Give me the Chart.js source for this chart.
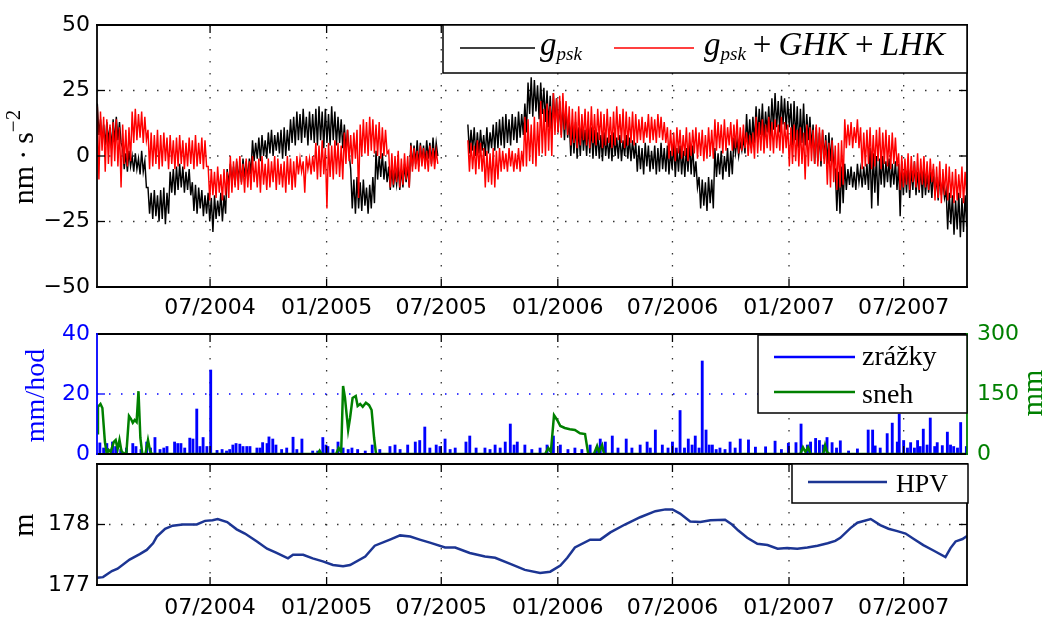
<!DOCTYPE html>
<html><head><meta charset="utf-8">
<script src="https://cdn.jsdelivr.net/npm/chart.js@4.4.1/dist/chart.umd.min.js"></script>
<style>
html,body{margin:0;padding:0;background:#fff;width:1047px;height:621px;overflow:hidden;}
canvas{position:absolute;left:0;}
</style></head><body>
<canvas id="c1" width="1047" height="320" style="top:0px"></canvas>
<canvas id="c2" width="1047" height="140" style="top:320px"></canvas>
<canvas id="c3" width="1047" height="161" style="top:460px"></canvas>
<script>
// ---------------- DATA (x values are days since 2004-01-01) ----------------
const xTickDays   = [182, 366, 547, 731, 912, 1096, 1277];
const xTickLabels = ['07/2004','01/2005','07/2005','01/2006','07/2006','01/2007','07/2007'];
const X_MIN = 3.5, X_MAX = 1377;

const gTicks = [-50, -25, 0, 25, 50];
const precipTicks = [0, 20, 40];
const snowTicks = [0, 150, 300];
const hpvTicks = [177, 178];

// gravity residuals: upper (day 4+5i) and lower (day 6.5+5i) readings of the noisy band
const gDayStart = 4, gDayStep = 5;
const gPskHigh = [20,14,12,13,11,14,15,13,3,1,
 2,0,1,-1,2,-2,-12,-14,-13,-15,
 -13,-12,-14,-6,-5,-4,-3,-4,-6,-5,
 -10,-11,-12,-13,-15,-14,-16,-15,-17,-14,
 -15,-5,-3,-4,-2,-3,-1,-2,-1,6,
 5,7,8,6,9,10,8,9,10,11,
 10,14,15,17,16,18,15,17,16,18,
 19,17,18,16,19,17,15,14,12,10,
 -5,-9,-8,-10,-9,-12,-11,-8,2,0,
 1,-2,-4,-5,-6,-4,-5,-3,-4,5,
 4,6,5,4,6,5,7,5,null,null,
 null,null,null,null,null,null,null,12,10,11,
 9,10,8,11,9,12,13,14,15,16,
 14,16,15,17,16,20,28,30,29,27,
 28,26,25,23,24,22,21,20,18,13,
 12,13,11,12,10,12,11,10,9,8,
 9,7,8,9,7,8,6,8,7,6,
 5,4,3,5,4,2,4,3,5,3,
 4,2,5,3,4,2,3,5,4,-2,
 -8,-9,-10,-8,-9,3,1,2,0,3,
 2,7,6,5,7,16,14,15,19,18,
 20,17,19,22,24,21,23,22,21,20,
 21,19,18,20,16,15,12,11,9,10,
 8,9,7,-5,-6,-4,-3,-5,-4,-6,
 -3,-5,-4,-3,3,1,0,-1,0,-2,
 -1,-3,-2,-3,-2,-4,-3,-5,-2,-6,
 -4,-5,-7,-6,-5,-8,-7,-9,-13,-14,
 -15,-17,-14,-16,-15];
const gPskLow = [8,5,4,6,3,5,6,5,-5,-6,
 -4,-6,-5,-7,-6,-12,-22,-24,-23,-25,
 -24,-26,-22,-14,-15,-13,-12,-14,-13,-15,
 -21,-22,-20,-23,-22,-25,-29,-24,-23,-25,
 -22,-11,-10,-11,-9,-10,-8,-9,-7,-2,
 -1,-2,0,-1,1,0,2,1,-1,0,
 2,5,4,6,5,7,4,6,5,4,
 6,3,5,4,6,4,5,3,2,1,
 -20,-22,-20,-21,-19,-22,-20,-18,-9,-8,
 -9,-10,-13,-12,-11,-13,-12,-10,-12,-4,
 -3,-4,-2,-3,-1,-3,-2,0,null,null,
 null,null,null,null,null,null,null,1,2,0,
 1,2,0,1,3,2,3,4,3,5,
 4,6,5,7,8,9,16,15,17,14,
 16,13,11,10,12,9,8,6,7,0,
 1,-1,0,2,0,1,-1,0,-1,-2,
 0,-1,-2,0,-1,-2,0,-1,-2,-1,
 -6,-5,-7,-4,-6,-5,-7,-6,-5,-6,
 -7,-5,-8,-6,-7,-8,-6,-7,-8,-12,
 -20,-19,-21,-18,-20,-8,-7,-9,-6,-8,
 -7,1,0,2,1,4,3,5,7,8,
 6,9,7,10,11,9,12,10,11,4,
 6,3,5,4,6,3,-3,-2,-4,-1,
 -3,-2,-4,-21,-22,-18,-13,-11,-12,-13,
 -10,-12,-11,-13,-20,-14,-19,-11,-12,-10,
 -12,-11,-13,-23,-15,-14,-16,-13,-15,-14,
 -16,-15,-14,-16,-15,-17,-15,-16,-28,-26,
 -30,-28,-31,-29,-27];
const gCorrHigh = [19,17,15,14,12,13,14,11,12,10,
 11,17,18,16,17,15,10,9,8,10,
 8,9,7,8,6,7,8,6,5,7,
 6,8,5,7,6,-4,-5,-6,-4,-7,
 -5,-6,0,-2,-1,0,-3,-1,-2,0,
 -2,-1,0,-3,-1,-2,0,-1,-3,-2,
 0,-1,-2,0,-1,-2,0,-1,0,5,
 4,6,3,5,4,6,5,4,9,10,
 8,9,10,12,14,13,15,14,12,13,
 11,10,2,1,0,2,-1,1,0,4,
 3,2,4,3,2,4,3,2,null,null,
 null,null,null,null,null,null,null,6,5,4,
 6,5,3,2,1,3,2,3,2,1,
 3,2,1,3,2,15,14,12,15,13,
 21,18,20,19,24,22,23,24,21,19,
 18,17,19,16,18,17,19,16,18,17,
 16,18,15,17,19,16,18,17,15,17,
 16,14,15,13,16,15,14,16,15,13,
 11,10,9,11,10,8,11,9,10,11,
 9,10,8,11,10,14,13,12,14,11,
 13,12,14,11,12,9,8,9,15,13,
 14,12,15,13,14,12,15,13,12,11,
 12,10,11,9,12,11,10,12,11,10,
 6,5,6,4,5,6,14,12,13,11,
 14,11,9,10,11,8,10,11,9,10,
 8,9,7,1,0,-1,1,0,-2,1,
 -1,0,-2,-1,-3,-4,-2,-5,-3,-4,
 -6,-5,-7,-4,-6];
const gCorrLow = [-9,2,-6,-3,-4,-2,-4,-12,-3,-4,
 -2,5,6,7,5,6,-5,-4,-3,-5,
 -4,-2,-5,-3,-5,-4,-3,-5,-4,-3,
 -5,-4,-3,-5,-4,-17,-15,-16,-14,-17,
 -15,-16,-14,-12,-13,-11,-14,-12,-13,-10,
 -12,-14,-11,-13,-12,-10,-13,-11,-12,-14,
 -11,-13,-12,-7,-6,-14,-5,-7,-6,-9,
 -8,-7,-20,-8,-9,-7,-8,-9,-3,-2,
 -3,-1,-16,0,1,0,2,1,0,-1,
 0,1,-12,-11,-10,-12,-11,-9,-12,-6,
 -5,-6,-4,-5,-6,-4,-5,-3,null,null,
 null,null,null,null,null,null,null,-6,-5,-7,
 -5,-6,-12,-10,-11,-12,-9,-6,-5,-6,
 -4,-6,-5,-6,-4,-4,-2,-3,-4,0,
 1,0,2,0,8,9,7,10,8,4,
 5,3,4,6,4,3,5,4,6,3,
 4,5,3,4,6,5,3,4,5,4,
 5,6,5,7,5,6,5,7,6,5,
 -1,0,-2,1,-1,0,-2,0,1,-1,
 0,-2,-1,0,-1,2,3,1,2,4,
 2,3,1,2,3,0,1,-1,1,2,
 1,3,2,1,3,2,1,3,-4,-3,
 -2,-4,-3,-9,-4,-2,-3,-4,-2,-3,
 -11,-12,-10,-13,-12,-11,3,4,3,5,
 3,-5,-4,-3,-5,-4,-2,-5,-3,-4,
 -5,-3,-4,-13,-12,-11,-13,-10,-12,-13,
 -11,-12,-13,-10,-17,-16,-18,-15,-17,-16,
 -18,-17,-16,-18,-15];

const precipDays = [8,14,19,28,33,41,50,60,65,73,
 82,88,95,103,109,114,126,131,136,142,
 150,155,161,166,171,177,183,193,201,208,
 213,218,223,229,234,240,245,256,261,265,
 272,275,281,286,295,303,313,319,327,344,
 352,360,365,368,376,384,392,400,406,415,
 427,438,450,466,474,482,494,506,513,521,
 529,539,545,553,561,569,586,592,602,616,
 624,632,640,648,656,662,667,679,690,703,
 714,724,735,747,758,769,782,792,798,806,
 817,826,839,848,861,872,877,885,896,905,
 912,918,924,931,937,943,948,954,959,965,
 970,975,981,987,995,1003,1011,1019,1032,1043,
 1059,1074,1084,1095,1107,1115,1125,1130,1138,1144,
 1150,1156,1164,1171,1177,1190,1204,1221,1228,1232,
 1240,1251,1259,1267,1270,1277,1283,1288,1294,1299,
 1303,1308,1314,1319,1326,1330,1338,1346,1351,1356,
 1362,1367,1376];
const precipValues = [3.7,2,3.5,4,2.5,1.5,2,3.5,2.5,1.5,
 4,2,5.5,1.5,2,2.5,4,3.5,3.5,2,
 5.3,5,15,2.5,5.5,2.5,28,1.2,1.5,1,
 1.5,3,3.5,3.3,2.5,2.5,2.5,2,2,3.8,
 3.5,5.7,5,3,1.5,2,5.6,1.5,5,1,
 1,5.5,3,2.5,1.5,4,2,1.5,2,1.5,
 1,3,1.5,2.5,3,1.5,3,4,4.5,9,
 2,3,2.5,5,1.5,2,4,6,2,2,
 1.5,3,2,4,10,3,4,3,1.5,2,
 3,6,3,1.5,2,1.5,3,2,5,4,
 6,2,5,2,3,4,2,8,3,2,
 4,2,14.5,2,5,3,6,2,31,8,
 3,3,1.5,2,1.5,4,2,5,4.7,2.3,
 2.4,4.3,1.5,3.6,3.8,10,3,4,5.2,4.5,
 3,5.5,3.8,2,4.4,1,1.7,8,8,2.7,
 2,6.8,10.3,4,13.3,4.5,2,3.8,2,4.5,
 2.5,8.3,3,12,2.5,3.8,2.8,7.3,3,2.5,
 2,10.5,2.5];

const snowDays = [4,5,9,12,16,19,22,25,30,33,36,39,42,46,50,54,57,60,63,66,69,72,75,80,84,87,90,
 352,355,358,381,385,389,392,395,400,403,407,412,415,419,423,428,433,437,441,444,
 711,716,720,725,730,735,742,750,758,766,774,779,788,793,796,801,804,
 1114,1118,1122,1126,1130,1150,1153,1156,1160,1376];
const snowValues = [52,118,125,115,30,0,10,5,30,35,12,35,8,0,5,95,88,78,85,80,157,40,0,0,35,10,0,
 0,8,0,0,15,5,170,140,60,90,140,145,120,125,118,128,122,110,40,0,
 0,15,5,97,85,70,65,62,60,52,50,0,0,20,5,22,0,
 0,17,5,17,0,0,22,5,0,0];

const hpvDays = [4,13,27,36,55,71,82,92,98,111,123,139,161,174,186,194,209,224,237,256,
 272,287,305,313,329,344,360,376,392,403,427,442,466,482,498,513,529,553,569,592,
 616,632,656,679,703,719,735,746,758,782,798,814,837,861,885,901,912,924,940,956,
 972,995,1006,1016,1030,1046,1062,1078,1093,1109,1125,1141,1157,1169,1177,1193,1204,1225,1240,1253,
 1267,1280,1293,1308,1324,1343,1351,1359,1370,1377];
const hpvValues = [177.12,177.13,177.23,177.27,177.42,177.51,177.58,177.69,177.80,177.93,
 177.98,178.00,178.00,178.06,178.07,178.09,178.04,177.92,177.85,177.72,
 177.60,177.53,177.44,177.50,177.50,177.44,177.39,177.33,177.31,177.33,
 177.47,177.65,177.75,177.82,177.80,177.75,177.70,177.62,177.62,177.53,
 177.47,177.45,177.35,177.25,177.20,177.22,177.32,177.45,177.62,177.75,
 177.75,177.87,178.00,178.12,178.22,178.25,178.25,178.18,178.05,178.04,
 178.07,178.08,178.00,177.90,177.78,177.68,177.66,177.60,177.61,177.60,
 177.62,177.65,177.69,177.73,177.78,177.94,178.03,178.09,177.99,177.93,
 177.89,177.85,177.76,177.66,177.57,177.46,177.61,177.72,177.76,177.81];

// ---------------- helpers ----------------
const SERIF = "'Liberation Serif', 'Times New Roman', serif";
const TICKFONT = {family: "'DejaVu Sans', sans-serif", size: 22};
const BLUE = '#0000ff', GREEN = '#008000', RED = '#ff0000', NAVY = '#1c3593';
const fmt = v => (v < 0 ? '\u2212' + Math.abs(v) : String(v));
const xy = (days, vals) => days.map((d, i) => ({x: d, y: vals[i]}));
// interleave upper and lower readings into one series
const band = (hi, lo) => hi.flatMap((h, i) => [
  {x: gDayStart + gDayStep * i, y: h},
  {x: gDayStart + gDayStep * i + gDayStep / 2, y: lo[i]}
]);

function drawParts(ctx, parts, x, y, align) {
  let w = 0;
  parts.forEach(p => { ctx.font = p.font; w += ctx.measureText(p.t).width + (p.gap || 0); });
  let cx = align === 'center' ? x - w / 2 : x;
  parts.forEach(p => {
    ctx.font = p.font;
    cx += (p.gap || 0);
    ctx.fillText(p.t, cx, y + (p.dy || 0));
    cx += ctx.measureText(p.t).width;
  });
}
function seg(ctx, x1, y1, x2, y2) { ctx.beginPath(); ctx.moveTo(x1, y1); ctx.lineTo(x2, y2); ctx.stroke(); }

const matlab = {
  id: 'matlab',
  beforeDatasetsDraw(chart, _a, o) {
    const {ctx, chartArea: a, scales} = chart;
    ctx.save();
    ctx.lineWidth = 1.3; ctx.setLineDash([1.5, 10.5]);
    ctx.strokeStyle = '#333';
    xTickDays.forEach(d => { const px = scales.x.getPixelForValue(d); seg(ctx, px, a.top, px, a.bottom); });
    (o.yGrid || []).forEach(g => {
      ctx.strokeStyle = g.color;
      g.values.forEach(v => { const py = scales[g.axis].getPixelForValue(v); seg(ctx, a.left, py, a.right, py); });
    });
    ctx.restore();
  },
  afterDraw(chart, _a, o) {
    const {ctx, chartArea: a, scales} = chart;
    ctx.save();
    ctx.setLineDash([]);
    const TL = 8;
    ctx.lineWidth = 1.3; ctx.strokeStyle = '#000';
    xTickDays.forEach(d => { const px = scales.x.getPixelForValue(d); seg(ctx, px, a.bottom, px, a.bottom - TL); seg(ctx, px, a.top, px, a.top + TL); });
    (o.yTicks || []).forEach(t => {
      ctx.strokeStyle = t.color;
      t.values.forEach(v => {
        const py = scales[t.axis].getPixelForValue(v);
        if (t.side !== 'right') seg(ctx, a.left, py, a.left + TL, py);
        if (t.side !== 'left') seg(ctx, a.right, py, a.right - TL, py);
      });
    });
    const f = o.frame;
    ctx.lineWidth = 1.8; ctx.lineCap = 'square';
    ctx.strokeStyle = f.top; seg(ctx, a.left, a.top, a.right, a.top);
    ctx.strokeStyle = f.bottom; seg(ctx, a.left, a.bottom, a.right, a.bottom);
    ctx.strokeStyle = f.right; seg(ctx, a.right, a.top, a.right, a.bottom);
    ctx.strokeStyle = f.left; seg(ctx, a.left, a.top, a.left, a.bottom);
    ctx.lineCap = 'butt';
    if (o.legend) {
      const L = o.legend;
      ctx.fillStyle = '#fff'; ctx.fillRect(L.box[0], L.box[1], L.box[2], L.box[3]);
      ctx.lineWidth = 1.5; ctx.strokeStyle = '#000'; ctx.strokeRect(L.box[0], L.box[1], L.box[2], L.box[3]);
      L.items.forEach(it => {
        ctx.strokeStyle = it.color; ctx.lineWidth = it.lw;
        seg(ctx, it.x1, it.y, it.x2, it.y);
        ctx.fillStyle = '#000'; ctx.textBaseline = 'alphabetic'; ctx.textAlign = 'left';
        drawParts(ctx, it.parts, it.tx, it.ty, 'left');
      });
    }
    (o.titles || []).forEach(t => {
      ctx.save();
      ctx.translate(t.x, t.y); ctx.rotate(-Math.PI / 2);
      ctx.fillStyle = t.color; ctx.textBaseline = 'alphabetic'; ctx.textAlign = 'left';
      drawParts(ctx, t.parts, 0, 0, 'center');
      ctx.restore();
    });
    ctx.restore();
  }
};

function xScale(h, show, pad) {
  return {
    type: 'linear', min: X_MIN, max: X_MAX, offset: false,
    afterBuildTicks: s => { s.ticks = xTickDays.map(v => ({value: v})); },
    afterFit: s => { s.height = h; s.paddingLeft = 0; s.paddingRight = 0; },
    ticks: {display: show, autoSkip: false, maxRotation: 0, minRotation: 0, padding: pad, color: '#000', font: TICKFONT,
            callback: (v, i) => xTickLabels[i]},
    grid: {display: false, drawTicks: false}, border: {display: false}
  };
}
function yScale(min, max, ticks, color, pos, w, pad) {
  return {
    type: 'linear', position: pos, min, max,
    afterBuildTicks: s => { s.ticks = ticks.map(v => ({value: v})); },
    afterFit: s => { s.width = w; s.paddingTop = 0; s.paddingBottom = 0; },
    ticks: {autoSkip: false, padding: pad, color, font: TICKFONT, callback: v => fmt(v)},
    grid: {display: false, drawTicks: false}, border: {display: false}
  };
}
const common = {responsive: false, animation: false, events: [], devicePixelRatio: 1};
const MI = `italic 33px ${SERIF}`, MS = `italic 19px ${SERIF}`, MR = `33px ${SERIF}`;

// ---------------- chart 1: gravity ----------------
new Chart(document.getElementById('c1'), {
  type: 'line',
  data: {datasets: [
    {label: 'g_psk', data: band(gPskHigh, gPskLow), borderColor: '#000', borderWidth: 1.45, pointRadius: 0, spanGaps: false, order: 2},
    {label: 'g_psk + GHK + LHK', data: band(gCorrHigh, gCorrLow), borderColor: RED, borderWidth: 1.45, pointRadius: 0, spanGaps: false, order: 1}
  ]},
  options: Object.assign({}, common, {
    layout: {padding: {top: 25, right: 80, left: 0, bottom: 0}},
    scales: {x: xScale(33, true, 8), y: yScale(-50, 50, gTicks, '#000', 'left', 97, 7)},
    plugins: {legend: {display: false}, tooltip: {enabled: false},
      matlab: {
        yGrid: [{axis: 'y', values: [-25, 0, 25], color: '#333'}],
        yTicks: [{axis: 'y', values: [-25, 0, 25], color: '#000'}],
        frame: {top: '#000', bottom: '#000', left: '#000', right: '#000'},
        legend: {box: [443, 25, 524, 48], items: [
          {color: '#000', lw: 1.5, x1: 460, x2: 535, y: 48, tx: 540, ty: 55, parts: [
            {t: 'g', font: MI}, {t: 'psk', font: MS, dy: 5}]},
          {color: RED, lw: 1.5, x1: 614, x2: 694, y: 48, tx: 704, ty: 55, parts: [
            {t: 'g', font: MI}, {t: 'psk', font: MS, dy: 5},
            {t: '+', font: MR, gap: 7}, {t: 'GHK', font: MI, gap: 7},
            {t: '+', font: MR, gap: 7}, {t: 'LHK', font: MI, gap: 7}]}
        ]},
        titles: [{x: 33, y: 157, color: '#000', parts: [
          {t: 'nm\u2009\u00b7\u2009s', font: `30px ${SERIF}`}, {t: '\u22122', font: `21px ${SERIF}`, dy: -13}]}]
      }}
  }),
  plugins: [matlab]
});

// ---------------- chart 2: precipitation & snow ----------------
new Chart(document.getElementById('c2'), {
  type: 'line',
  data: {datasets: [
    {type: 'line', label: 'sneh', data: xy(snowDays, snowValues), yAxisID: 'y2', borderColor: GREEN, borderWidth: 2.5, pointRadius: 0, order: 1},
    {type: 'bar', label: 'zrážky', data: xy(precipDays, precipValues), yAxisID: 'y', backgroundColor: BLUE, borderWidth: 0, barThickness: 2.2, order: 2}
  ]},
  options: Object.assign({}, common, {
    layout: {padding: {top: 14, right: 0, left: 0, bottom: 0}},
    scales: {
      x: xScale(6, false, 0),
      y: yScale(0, 40, precipTicks, BLUE, 'left', 97, 7),
      y2: yScale(0, 300, snowTicks, GREEN, 'right', 80, 10)
    },
    plugins: {legend: {display: false}, tooltip: {enabled: false},
      matlab: {
        yGrid: [{axis: 'y', values: [20], color: BLUE}],
        yTicks: [{axis: 'y', values: [20], color: BLUE, side: 'left'}, {axis: 'y2', values: [150], color: GREEN, side: 'right'}],
        frame: {top: '#000', bottom: '#000', left: BLUE, right: GREEN},
        legend: {box: [758, 15, 209, 78], items: [
          {color: BLUE, lw: 2.5, x1: 774, x2: 855, y: 37, tx: 862, ty: 45, parts: [{t: 'zrážky', font: `28px ${SERIF}`}]},
          {color: GREEN, lw: 2.5, x1: 774, x2: 855, y: 72, tx: 862, ty: 83, parts: [{t: 'sneh', font: `28px ${SERIF}`}]}
        ]},
        titles: [
          {x: 43.5, y: 75.5, color: BLUE, parts: [{t: 'mm/hod', font: `28px ${SERIF}`}]},
          {x: 1042, y: 73, color: GREEN, parts: [{t: 'mm', font: `30px ${SERIF}`}]}
        ]
      }}
  }),
  plugins: [matlab]
});

// ---------------- chart 3: groundwater level ----------------
new Chart(document.getElementById('c3'), {
  type: 'line',
  data: {datasets: [
    {label: 'HPV', data: xy(hpvDays, hpvValues), borderColor: NAVY, borderWidth: 2.5, pointRadius: 0}
  ]},
  options: Object.assign({}, common, {
    layout: {padding: {top: 4, right: 80, left: 0, bottom: 0}},
    scales: {x: xScale(36, true, 10), y: yScale(177, 179, hpvTicks, '#000', 'left', 97, 7)},
    plugins: {legend: {display: false}, tooltip: {enabled: false},
      matlab: {
        yGrid: [{axis: 'y', values: [178], color: '#333'}],
        yTicks: [{axis: 'y', values: [178], color: '#000'}],
        frame: {top: '#000', bottom: '#000', left: '#000', right: '#000'},
        legend: {box: [792, 4, 176, 39], items: [
          {color: NAVY, lw: 2.5, x1: 808, x2: 887, y: 22, tx: 896, ty: 32, parts: [{t: 'HPV', font: `26px ${SERIF}`}]}
        ]},
        titles: [{x: 33.3, y: 65, color: '#000', parts: [{t: 'm', font: `30px ${SERIF}`}]}]
      }}
  }),
  plugins: [matlab]
});
</script>
</body></html>
